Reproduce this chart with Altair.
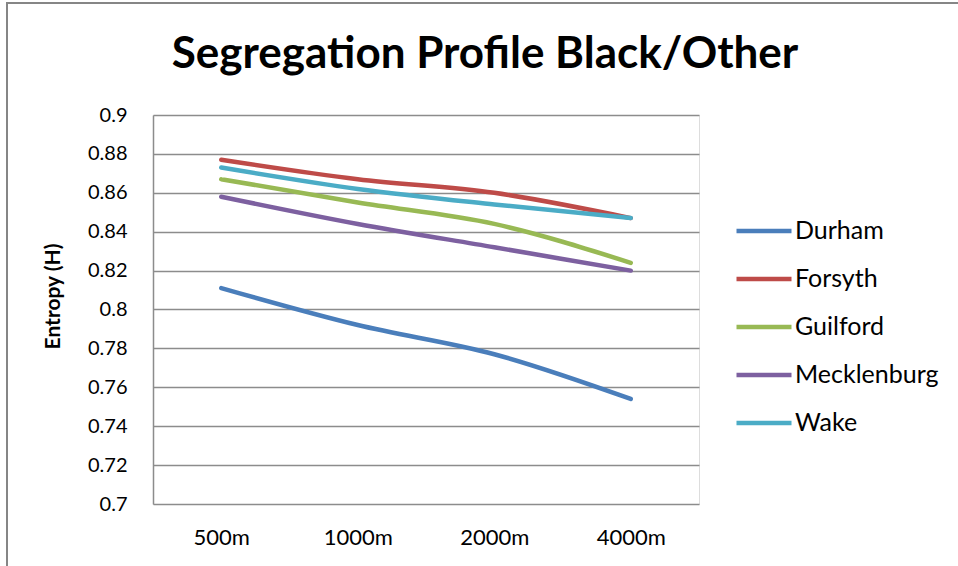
import altair as alt
import pandas as pd

# Distance bands and entropy values per county
distances = ["500m", "1000m", "2000m", "4000m"]
counties = ["Durham", "Forsyth", "Guilford", "Mecklenburg", "Wake"]
durham = [0.811, 0.792, 0.777, 0.754]
forsyth = [0.877, 0.867, 0.860, 0.847]
guilford = [0.867, 0.855, 0.844, 0.824]
mecklenburg = [0.858, 0.844, 0.832, 0.820]
wake = [0.873, 0.862, 0.854, 0.847]
colors = ["#4A7EBB", "#BE4B48", "#98B954", "#7D60A0", "#4BACC6"]
y_ticks = [0.7, 0.72, 0.74, 0.76, 0.78, 0.8, 0.82, 0.84, 0.86, 0.88, 0.9]

series = [durham, forsyth, guilford, mecklenburg, wake]
rows = []
for name, vals in zip(counties, series):
    for d, v in zip(distances, vals):
        rows.append({"County": name, "Distance": d, "Entropy": v})
df = pd.DataFrame(rows)

FONT = "Lato"
GRID = "#8c8c8c"

lines = alt.Chart(df).mark_line(
    strokeWidth=4.5, interpolate="monotone", strokeCap="round", clip=False
).encode(
    x=alt.X(
        "Distance:N",
        sort=distances,
        scale=alt.Scale(type="point", padding=0.5),
        axis=alt.Axis(
            title=None, labelFontSize=22, labelPadding=23, ticks=False,
            domain=False, grid=False, labelAngle=0, labelFont=FONT,
            labelColor="#000000",
        ),
    ),
    y=alt.Y(
        "Entropy:Q",
        scale=alt.Scale(domain=[0.7, 0.9], nice=False, zero=False),
        axis=alt.Axis(
            title="Entropy (H)", values=y_ticks, format=".2~f",
            labelFontSize=20, labelPadding=26, ticks=False,
            domainColor=GRID, domainWidth=1.5, gridColor=GRID, gridWidth=1.5,
            labelFont=FONT, labelColor="#000000",
            titleFont=FONT, titleFontSize=21, titleFontWeight="bold",
            titleColor="#000000", titleAngle=-90, titleX=-100, titleY=181,
            titleAlign="center", titleBaseline="middle",
        ),
    ),
    color=alt.Color(
        "County:N",
        sort=counties,
        scale=alt.Scale(domain=counties, range=colors),
        legend=alt.Legend(
            title=None, orient="none", legendX=581, legendY=86,
            symbolType="stroke", symbolSize=3025, symbolStrokeWidth=4.5,
            labelFontSize=25, labelFont=FONT, labelColor="#000000",
            labelOffset=1, rowPadding=5,
        ),
    ),
)

# Chart-area frame
frame = alt.Chart(pd.DataFrame({"k": [0]})).mark_rect(
    fill=None, stroke="#868686", strokeWidth=2, clip=False
).encode(
    x=alt.value(-146), x2=alt.value(820), y=alt.value(-112), y2=alt.value(470)
)

chart = alt.layer(frame, lines).properties(
    width=546,
    height=389,
    padding={"left": 153, "top": 115, "right": 259, "bottom": 62},
    autosize=alt.AutoSizeParams(type="none"),
    title=alt.TitleParams(
        "Segregation Profile Black/Other", font=FONT, fontSize=44,
        fontWeight="bold", color="#000000", anchor="middle", frame="group",
        baseline="alphabetic", dx=59, offset=-110,
    ),
).configure_view(stroke=None).configure(background="#ffffff")

chart.save("out.html", embed_options={"renderer": "svg", "actions": False})
